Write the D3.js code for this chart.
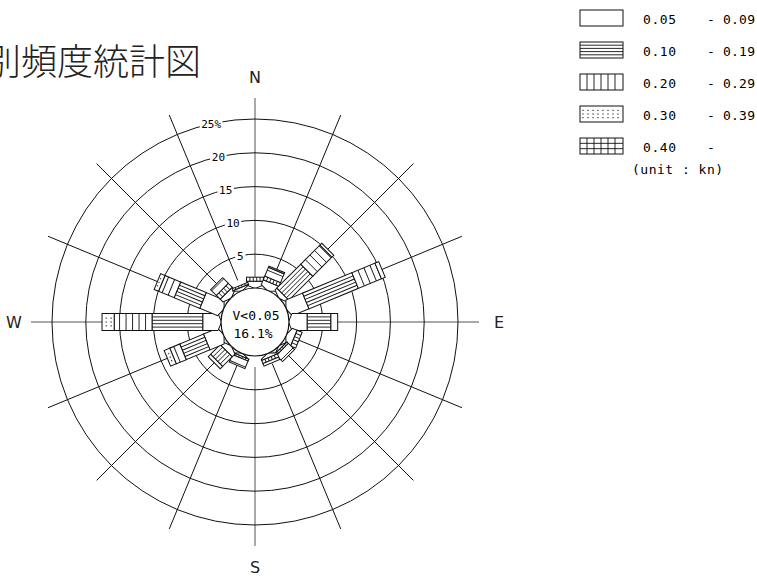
<!DOCTYPE html>
<html>
<head>
<meta charset="utf-8">
<script src="https://cdn.jsdelivr.net/npm/d3@7"></script>
<style>
  body { margin: 0; background: #fff; }
  svg { display: block; }
</style>
</head>
<body>
<svg id="rose" width="757" height="578"></svg>
<script>
// directions clockwise from north
const directions = ['N', 'NNE', 'NE', 'ENE', 'E', 'ESE', 'SE', 'SSE', 'S', 'SSW', 'SW', 'WSW', 'W', 'WNW', 'NW', 'NNW']

// frequency (%) for each speed class, same order as directions
const freq0509 = [1.0, 1.2, 0.8, 3.1, 2.7, 1.2, 0.4, 0.6, 0.0, 0.4, 1.0, 2.7, 2.7, 3.3, 1.0, 0.5]
const freq1019 = [0.6, 0.6, 5.0, 7.9, 3.5, 0.8, 0.3, 0.5, 0.0, 0.3, 2.0, 3.8, 7.5, 4.1, 0.8, 0.3]
const freq2029 = [0.0, 1.4, 4.0, 3.7, 1.0, 0.0, 1.3, 0.4, 0.0, 1.2, 0.5, 1.6, 5.6, 2.5, 1.2, 0.0]
const freq3039 = [0.0, 0.2, 0.4, 0.6, 0.0, 0.0, 0.0, 0.0, 0.0, 0.0, 0.0, 0.9, 1.8, 0.7, 0.0, 0.0]
const freq40 = [0, 0, 0, 0, 0, 0, 0, 0, 0, 0, 0, 0, 0, 0, 0, 0]

const classFrom = ['0.05', '0.10', '0.20', '0.30', '0.40']
const classTo = ['- 0.09', '- 0.19', '- 0.29', '- 0.39', '-']
const classPattern = ['blank', 'horiz', 'vert', 'dots', 'grid']

const ringTicks = [5, 10, 15, 20, 25]
const calmLabel = 'V<0.05'
const calmPct = '16.1%'
const titleText = '別頻度統計図'

const series = [freq0509, freq1019, freq2029, freq3039, freq40]

const svg = d3.select('#rose')
const cx = 255, cy = 322
const r0 = 34
const r = d3.scaleLinear().domain([0, 25]).range([r0, 203])
const hw = 8.5 // half bar width
const mono = 'DejaVu Sans Mono, monospace'

// title (cut at the left edge like the original)
svg.append('text')
  .attr('x', -15).attr('y', 75)
  .attr('font-family', 'Noto Sans CJK JP')
  .attr('font-size', 36)
  .attr('font-weight', 300)
  .attr('fill', '#222')
  .text(titleText)

const g = svg.append('g').attr('transform', `translate(${cx},${cy})`)

// radial lines
directions.forEach((d, i) => {
  const a = i * 22.5 * Math.PI / 180
  const main = i % 4 === 0
  const rEnd = 224
  g.append('line')
    .attr('x1', 45 * Math.sin(a)).attr('y1', -45 * Math.cos(a))
    .attr('x2', rEnd * Math.sin(a)).attr('y2', -rEnd * Math.cos(a))
    .attr('stroke', main ? '#555' : '#111')
    .attr('stroke-width', 1)
})

// rings
g.selectAll('circle.ring')
  .data(ringTicks)
  .enter()
  .append('circle')
  .attr('class', 'ring')
  .attr('r', d => r(d))
  .attr('fill', 'none')
  .attr('stroke', '#111')
  .attr('stroke-width', 1)

// hatch drawing in a local box: x0..x1 along the bar, -h..h across
function hatch(sel, pat, x0, x1, h, step = 6.5) {
  const line = (a, b, c, d) => sel.append('line')
    .attr('x1', a).attr('y1', b).attr('x2', c).attr('y2', d)
    .attr('stroke', '#111').attr('stroke-width', 0.9)
  if (pat === 'horiz' || pat === 'grid') {
    const n = pat === 'grid' ? 3 : 5
    for (let k = 1; k < n; k++) {
      const y = -h + k * (2 * h / n)
      line(x0, y, x1, y)
    }
  }
  if (pat === 'vert' || pat === 'grid') {
    for (let x = x0 + step; x < x1 - 1; x += step) line(x, -h, x, h)
  }
  if (pat === 'dots') {
    for (let x = x0 + 3; x < x1 - 1.5; x += 5) {
      for (const y of [-h * 0.45, 0, h * 0.45]) {
        sel.append('rect').attr('x', x - 0.6).attr('y', y - 0.6)
          .attr('width', 1.2).attr('height', 1.2).attr('fill', '#333')
      }
    }
  }
}

// bars
directions.forEach((d, i) => {
  const bar = g.append('g').attr('transform', `rotate(${i * 22.5 - 90})`)
  let cum = 0
  series.forEach((s, k) => {
    const v = s[i]
    if (!v) return
    const x0 = r(cum), x1 = r(cum + v)
    cum += v
    if (x0 === r0) {
      // first segment touches the calm circle with a pointed inner end
      const tip = Math.sqrt(r0 * r0 - hw * hw)
      bar.append('path')
        .attr('d', `M${r0 - 0.5},0 L${tip + 4},${-hw} L${x1},${-hw} L${x1},${hw} L${tip + 4},${hw} Z`)
        .attr('fill', '#fff').attr('stroke', '#111').attr('stroke-width', 1)
      hatch(bar, classPattern[k], tip + 4, x1, hw)
    } else {
      bar.append('rect')
        .attr('x', x0).attr('y', -hw)
        .attr('width', x1 - x0).attr('height', 2 * hw)
        .attr('fill', '#fff').attr('stroke', '#111').attr('stroke-width', 1)
      hatch(bar, classPattern[k], x0, x1, hw)
    }
  })
})

// calm circle
g.append('circle').attr('r', r0).attr('fill', '#fff').attr('stroke', '#111').attr('stroke-width', 1.2)
g.append('text').attr('x', 1).attr('y', -2)
  .attr('text-anchor', 'middle').attr('font-family', mono).attr('font-size', 13)
  .text(calmLabel)
g.append('text').attr('x', -2).attr('y', 16)
  .attr('text-anchor', 'middle').attr('font-family', mono).attr('font-size', 13)
  .text(calmPct)

// ring labels along a line slightly west of north
const labelAngle = -12.5 * Math.PI / 180
ringTicks.forEach((t, i) => {
  const rr = r(t)
  const lx = rr * Math.sin(labelAngle)
  const ly = -rr * Math.cos(labelAngle)
  const txt = i === ringTicks.length - 1 ? t + '%' : String(t)
  const w = txt.length * 6.2 + 4
  g.append('rect').attr('x', lx - w / 2).attr('y', ly - 7).attr('width', w).attr('height', 12).attr('fill', '#fff')
  g.append('text').attr('x', lx).attr('y', ly + 4)
    .attr('text-anchor', 'middle').attr('font-family', mono).attr('font-size', 11)
    .text(txt)
})

// compass letters
const compass = [['N', 0, -239], ['E', 244, 6], ['S', 0, 251], ['W', -241, 6]]
compass.forEach(([t, x, y]) => {
  g.append('text').attr('x', x).attr('y', y)
    .attr('text-anchor', 'middle').attr('font-family', 'DejaVu Sans, sans-serif')
    .attr('font-size', 16).attr('fill', '#222').text(t)
})

// legend
const lg = svg.append('g').attr('transform', 'translate(580,10)')
classFrom.forEach((c, k) => {
  const y = k * 32
  const box = lg.append('g').attr('transform', `translate(0,${y})`)
  box.append('rect').attr('x', 0).attr('y', 0).attr('width', 43).attr('height', 16)
    .attr('fill', '#fff').attr('stroke', '#111').attr('stroke-width', 1)
  box.append('g').attr('transform', 'translate(0,8)').call(s => hatch(s, classPattern[k], 0, 43, 8, 7))
  box.append('text').attr('x', 63).attr('y', 14).attr('font-family', mono).attr('font-size', 13)
    .attr('letter-spacing', 0.6).text(c)
  box.append('text').attr('x', 127).attr('y', 14).attr('font-family', mono).attr('font-size', 13)
    .attr('letter-spacing', 0.2).text(classTo[k])
})
lg.append('text').attr('x', 52).attr('y', 164).attr('font-family', mono).attr('font-size', 13)
  .attr('letter-spacing', 0.5).text('(unit : kn)')
</script>
</body>
</html>
